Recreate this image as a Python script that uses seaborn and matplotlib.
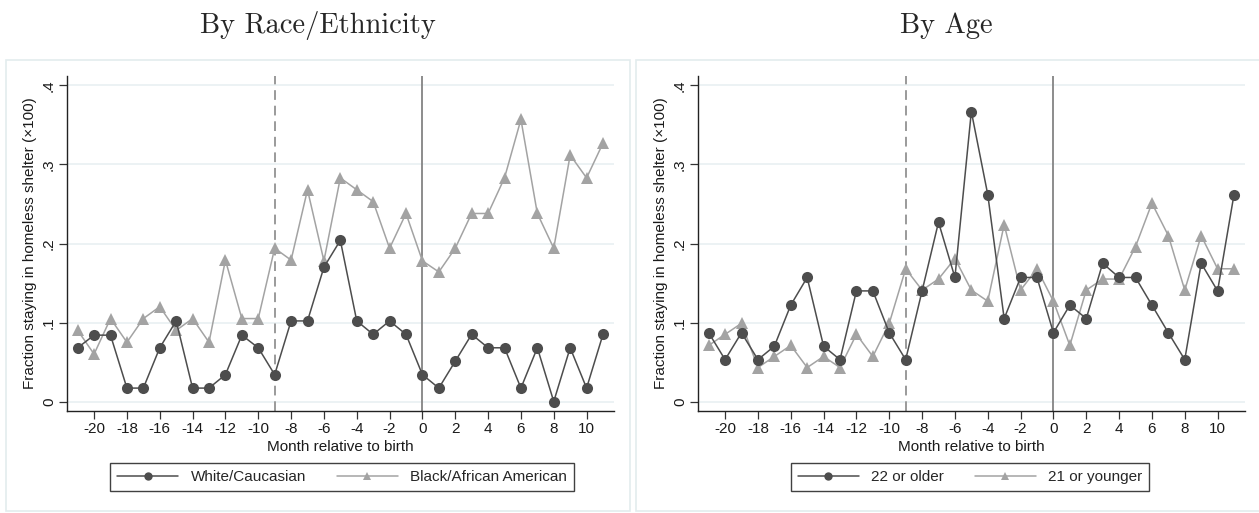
import numpy as np
import pandas as pd
import matplotlib
matplotlib.use("Agg")
import matplotlib.pyplot as plt
from matplotlib.lines import Line2D
from matplotlib.patches import Rectangle
import seaborn as sns

months = list(range(-21, 12))

white = [0.068, 0.084, 0.084, 0.017, 0.017, 0.068, 0.102, 0.017, 0.017, 0.034,
         0.084, 0.068, 0.034, 0.102, 0.102, 0.170, 0.204, 0.102, 0.085, 0.102,
         0.085, 0.034, 0.017, 0.051, 0.085, 0.068, 0.068, 0.017, 0.068, 0.000,
         0.068, 0.017, 0.085]
black = [0.090, 0.060, 0.105, 0.075, 0.105, 0.120, 0.090, 0.105, 0.075, 0.179,
         0.105, 0.105, 0.194, 0.179, 0.268, 0.178, 0.283, 0.268, 0.253, 0.194,
         0.238, 0.178, 0.164, 0.194, 0.238, 0.238, 0.283, 0.357, 0.238, 0.194,
         0.312, 0.283, 0.327]
older = [0.087, 0.053, 0.087, 0.053, 0.070, 0.122, 0.157, 0.070, 0.053, 0.140,
         0.140, 0.087, 0.053, 0.140, 0.227, 0.157, 0.367, 0.262, 0.105, 0.157,
         0.157, 0.087, 0.122, 0.105, 0.175, 0.157, 0.157, 0.122, 0.087, 0.053,
         0.175, 0.140, 0.262]
younger = [0.071, 0.085, 0.099, 0.043, 0.057, 0.071, 0.043, 0.057, 0.043, 0.085,
           0.057, 0.099, 0.168, 0.141, 0.155, 0.181, 0.141, 0.127, 0.224, 0.141,
           0.168, 0.127, 0.071, 0.141, 0.155, 0.155, 0.196, 0.251, 0.210, 0.141,
           0.210, 0.168, 0.168]

panels = [
    ("By Race/Ethnicity", ["White/Caucasian", "Black/African American"], [white, black]),
    ("By Age", ["22 or older", "21 or younger"], [older, younger]),
]

xticks = list(range(-20, 11, 2))
yticks = [0, 0.1, 0.2, 0.3, 0.4]
yticklabels = ["0", ".1", ".2", ".3", ".4"]

DARK = "#4d4d4d"
LIGHT = "#a3a3a3"
GRID = "#e9f0f2"

sns.set_theme(style="white")
plt.rcParams["font.family"] = ["Liberation Sans", "DejaVu Sans"]
plt.rcParams["axes.unicode_minus"] = False

fig = plt.figure(figsize=(12.59, 5.13), dpi=100)
W, H = 1259, 513

def fx(px):
    return px / W

def fy(py):
    return 1 - py / H

# panel frames, kept behind the axes
for x0, x1 in [(6, 630), (636, 1262)]:
    fig.patches.append(Rectangle((fx(x0), fy(511)), fx(x1 - x0), (511 - 60) / H,
                                 transform=fig.transFigure, facecolor="white",
                                 edgecolor="#e3ecee", linewidth=1.2, zorder=-10))

ax_left = [67, 698]
centers = [318, 946]

for i, (title, names, series) in enumerate(panels):
    x0 = ax_left[i]
    ax = fig.add_axes([fx(x0), fy(411), fx(547), (411 - 76) / H])
    ax.set_zorder(2)
    ax.patch.set_alpha(0)
    df = pd.DataFrame({
        "month": months * 2,
        "value": series[0] + series[1],
        "group": [names[0]] * len(months) + [names[1]] * len(months),
    })
    for yv in yticks:
        ax.axhline(yv, color=GRID, lw=1.2, zorder=0)
    ax.axvline(-9, color="#9a9a9a", lw=1.4, ls=(0, (5, 3)), zorder=1)
    ax.axvline(0, color="#8c8c8c", lw=1.4, zorder=1)
    sns.lineplot(data=df, x="month", y="value", hue="group", style="group",
                 hue_order=names[::-1], style_order=names,
                 palette={names[0]: DARK, names[1]: LIGHT},
                 markers={names[0]: "o", names[1]: "^"}, dashes=False,
                 markersize=8, markeredgewidth=0, linewidth=1.1,
                 legend=False, ax=ax, zorder=3)
    ax.set_xlim(-21.65, 11.67)
    ax.set_ylim(-0.012, 0.412)
    ax.set_xticks(xticks)
    ax.set_xticklabels([str(t) for t in xticks], fontsize=11)
    ax.set_yticks(yticks)
    ax.set_yticklabels(yticklabels, fontsize=11, rotation=90, va="center")
    ax.tick_params(axis="both", direction="out", length=5.5, width=0.9,
                   color="#333333", labelcolor="#1a1a1a", pad=2.5, bottom=True, left=True)
    for s in ["top", "right"]:
        ax.spines[s].set_visible(False)
    for s in ["left", "bottom"]:
        ax.spines[s].set_color("#222222")
        ax.spines[s].set_linewidth(1.0)
    ax.set_xlabel("Month relative to birth", fontsize=11, labelpad=2.5, color="#1a1a1a")
    ax.set_ylabel("Fraction staying in homeless shelter (\u00d7100)", fontsize=11,
                  labelpad=3.5, color="#1a1a1a")
    ax.grid(False)

    handles = [
        Line2D([], [], color=DARK, marker="o", markersize=6, markeredgewidth=0, lw=1.1),
        Line2D([], [], color=LIGHT, marker="^", markersize=6, markeredgewidth=0, lw=1.1),
    ]
    leg = fig.legend(handles, names, ncol=2, loc="center",
                     bbox_to_anchor=(fx(centers[i] + 24), fy(477)),
                     fontsize=11, frameon=True, fancybox=False, edgecolor="#111111",
                     handlelength=4.0, columnspacing=2.0, handletextpad=0.8,
                     borderpad=0.45)
    leg.get_frame().set_linewidth(1.0)

    fig.text(fx(centers[i]), fy(26), title, ha="center", va="center",
             fontsize=20.5, family="cmr10")

fig.savefig("out.png", dpi=100)
